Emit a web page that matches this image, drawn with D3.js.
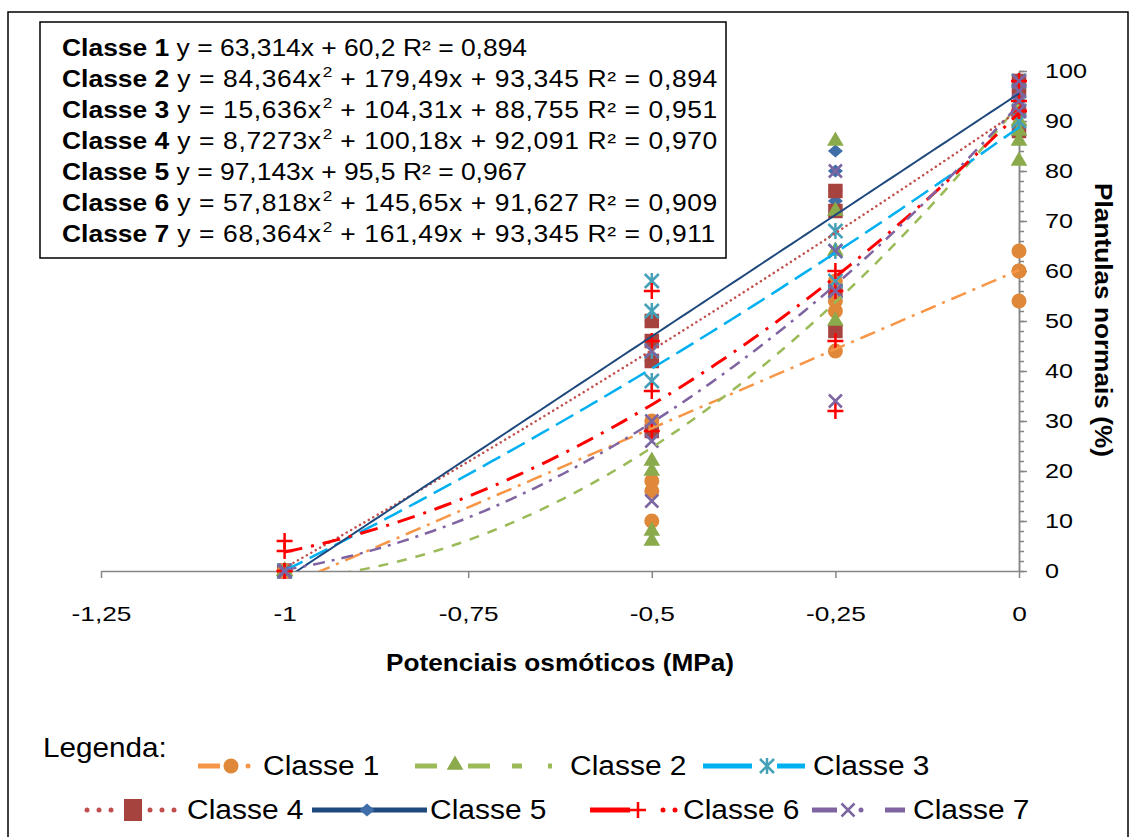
<!DOCTYPE html>
<html lang="pt">
<head>
<meta charset="utf-8">
<style>
  body { margin: 0; background: #fff; }
  svg { font-family: "Liberation Sans", Arial, sans-serif; }
</style>
</head>
<body>
<script src="https://cdn.jsdelivr.net/npm/d3@7"></script>
<script>

// potenciais osmoticos (MPa) e repeticoes por classe
var potenciais = [-1, -0.5, -0.25, 0];
var classe1 = [[0, 0, 0, 0], [30, 18, 16, 10], [58, 54, 52, 44], [64, 60, 60, 54]];
var classe2 = [[0, 0, 0, 0], [22, 20, 8, 6], [86, 72, 64, 50], [90, 88, 86, 82]];
var classe3 = [[0, 0, 0, 0], [58, 52, 44, 38], [68, 64, 58, 56], [98, 96, 92, 90]];
var classe4 = [[0, 0, 0, 0], [50, 46, 42, 28], [76, 72, 56, 48], [98, 96, 92, 88]];
var classe5 = [[0, 0, 0, 0], [50, 46, 42, 42], [84, 80, 76, 74], [98, 96, 94, 92]];
var classe6 = [[6, 4, 0, 0], [56, 46, 36, 28], [60, 56, 46, 32], [98, 94, 92, 92]];
var classe7 = [[0, 0, 0, 0], [44, 30, 26, 14], [80, 64, 56, 34], [98, 96, 94, 92]];

var nomes = ["Classe 1", "Classe 2", "Classe 3", "Classe 4", "Classe 5", "Classe 6", "Classe 7"];
// linhas de tendencia y = a x^2 + b x + c
var coefA = [0, 84.364, 15.636, 8.7273, 0, 57.818, 68.364];
var coefB = [63.314, 179.49, 104.31, 100.18, 97.143, 145.65, 161.49];
var coefC = [60.2, 93.345, 88.755, 92.091, 95.5, 91.627, 93.345];
var r2 = [0.894, 0.894, 0.951, 0.970, 0.967, 0.909, 0.911];

var xTicks = [-1.25, -1, -0.75, -0.5, -0.25, 0];
var yTicks = [0, 10, 20, 30, 40, 50, 60, 70, 80, 90, 100];

var dados = [classe1, classe2, classe3, classe4, classe5, classe6, classe7];

var estilos = [
  {fill: "#E0883A", stroke: null, sym: "circle", line: "#F79646", w: 2.5, dash: "16,7,3,7", cap: "butt"},
  {fill: "#8AAA4C", stroke: null, sym: "triangle", line: "#9BBB59", w: 2.5, dash: "10,9", cap: "butt"},
  {fill: "none", stroke: "#45A0B8", sym: "asterisk", line: "#00B0F0", w: 2.5, dash: "20,8", cap: "butt"},
  {fill: "#A7433F", stroke: null, sym: "square", line: "#C0504D", w: 2.5, dash: "0.1,5", cap: "round"},
  {fill: "#3F6EA9", stroke: null, sym: "diamond", line: "#1F497D", w: 2, dash: null, cap: "butt"},
  {fill: "none", stroke: "#FF0000", sym: "plus", line: "#FF0000", w: 3, dash: "18,9,3,9", cap: "butt"},
  {fill: "none", stroke: "#7C66A1", sym: "cross", line: "#8064A2", w: 2.5, dash: "12,7,3,7", cap: "butt"}
];

var W = 1132, H = 837;
var svg = d3.select("body").append("svg").attr("width", W).attr("height", H);

// moldura externa
svg.append("path")
  .attr("d", "M8," + H + "V12H1128V" + H)
  .attr("fill", "none").attr("stroke", "#000").attr("stroke-width", 1.5);

var x = d3.scaleLinear().domain([-1.25, 0]).range([101, 1019]);
var y = d3.scaleLinear().domain([0, 100]).range([571, 71]);

var virgula = function(v) { return String(v).replace(".", ","); };

// o texto do original aparece esticado na horizontal
function texto(g, tx, ty, size, sx, str, anchor, bold) {
  return g.append("text")
    .attr("transform", "translate(" + tx + "," + ty + ") scale(" + sx + ",1)")
    .attr("font-size", size)
    .attr("font-weight", bold ? "bold" : null)
    .attr("text-anchor", anchor || "start")
    .text(str);
}

// eixo x
var gx = svg.append("g")
  .attr("transform", "translate(0," + y(0) + ")")
  .call(d3.axisBottom(x).tickValues(xTicks).tickSize(7).tickSizeOuter(0).tickPadding(28)
    .tickFormat(virgula));
gx.selectAll("path, line").attr("stroke", "#868686").attr("stroke-width", 1.5);
gx.selectAll("text").attr("font-size", 21).attr("fill", "#000")
  .attr("font-family", "Liberation Sans, Arial, sans-serif")
  .attr("transform", "scale(1.25,1)");

// eixo y secundario (direita) com subdivisoes
var gyMinor = svg.append("g")
  .attr("transform", "translate(" + x(0) + ",0)")
  .call(d3.axisRight(y).ticks(50).tickSize(5).tickSizeOuter(0).tickFormat(""));
gyMinor.selectAll("path, line").attr("stroke", "#868686").attr("stroke-width", 1.5);

var gy = svg.append("g")
  .attr("transform", "translate(" + x(0) + ",0)")
  .call(d3.axisRight(y).tickValues(yTicks).tickSize(8).tickSizeOuter(0).tickPadding(18));
gy.selectAll("path, line").attr("stroke", "#868686").attr("stroke-width", 1.5);
gy.selectAll("text").attr("font-size", 21).attr("fill", "#000")
  .attr("font-family", "Liberation Sans, Arial, sans-serif")
  .attr("x", 26 / 1.2)
  .attr("transform", "scale(1.2,1)");

// titulos dos eixos
texto(svg, 560, 671, 23, 1.14, "Potenciais osmóticos (MPa)", "middle", true);

svg.append("text")
  .attr("transform", "translate(1095,320) rotate(90) scale(1.14,1)")
  .attr("text-anchor", "middle").attr("font-size", 23).attr("font-weight", "bold")
  .text("Plantulas normais (%)");

// simbolos
function simbolo(tipo) {
  if (tipo === "circle") return d3.symbol().type(d3.symbolCircle).size(177)();
  if (tipo === "triangle") return d3.symbol().type(d3.symbolTriangle).size(120)();
  if (tipo === "square") return d3.symbol().type(d3.symbolSquare).size(210)();
  if (tipo === "diamond") return "M0,-6.5L7.5,0L0,6.5L-7.5,0Z";
  if (tipo === "plus") return "M-8,0H8M0,-8V8";
  if (tipo === "cross") return "M-6.5,-6.5L6.5,6.5M-6.5,6.5L6.5,-6.5";
  return "M-7,-7L7,7M-7,7L7,-7M0,-8V8"; // asterisco
}

var ordem = [4, 3, 0, 1, 2, 5, 6];
var pontos = svg.append("g");
ordem.forEach(function(k) {
  var pts = [];
  dados[k].forEach(function(reps, i) {
    reps.forEach(function(v) { pts.push({x: potenciais[i], y: v}); });
  });
  var s = estilos[k];
  pontos.selectAll(".p" + k)
    .data(pts)
    .enter().append("path")
    .attr("class", "p" + k)
    .attr("transform", function(d) { return "translate(" + x(d.x) + "," + y(d.y) + ")"; })
    .attr("d", simbolo(s.sym))
    .attr("fill", s.fill)
    .attr("stroke", s.stroke || "none")
    .attr("stroke-width", 2.5);
});

// linhas de tendencia
svg.append("clipPath").attr("id", "area")
  .append("rect").attr("x", x(-1.25)).attr("y", y(100) - 10)
  .attr("width", x(0) - x(-1.25) + 1).attr("height", y(0) - y(100) + 10);

var amostras = d3.range(-1, 0.00001, 0.01);
var linha = d3.line().x(function(d) { return x(d[0]); }).y(function(d) { return y(d[1]); });

var tend = svg.append("g").attr("clip-path", "url(#area)");
nomes.forEach(function(n, k) {
  var s = estilos[k];
  var pts = amostras.map(function(v) { return [v, coefA[k] * v * v + coefB[k] * v + coefC[k]]; });
  tend.append("path")
    .attr("d", linha(pts))
    .attr("fill", "none")
    .attr("stroke", s.line)
    .attr("stroke-width", s.w)
    .attr("stroke-dasharray", s.dash)
    .attr("stroke-linecap", s.cap);
});

// caixa das equacoes
svg.append("rect")
  .attr("x", 40).attr("y", 22).attr("width", 686).attr("height", 236)
  .attr("fill", "#fff").attr("stroke", "#000").attr("stroke-width", 1.5);

nomes.forEach(function(n, k) {
  var t = texto(svg, 62, 56 + k * 31, 23, 1.15, null);
  t.append("tspan").attr("font-weight", "bold").text(n);
  if (coefA[k] !== 0) {
    t.append("tspan").attr("letter-spacing", 0.55).text(" y = " + virgula(coefA[k]) + "x");
    t.append("tspan").attr("font-size", 15).attr("dx", 1).attr("dy", -10).text("2");
    t.append("tspan").attr("letter-spacing", 0.55).attr("dy", 10)
      .text(" + " + virgula(coefB[k]) + "x + " + virgula(coefC[k]) +
      " R² = " + virgula(r2[k].toFixed(3)));
  } else {
    t.append("tspan").text(" y = " + virgula(coefB[k]) + "x + " + virgula(coefC[k]) +
      " R² = " + virgula(r2[k].toFixed(3)));
  }
});

// legenda
texto(svg, 43, 757, 28, 1.06, "Legenda:");

var leg = svg.append("g");
function traco(x1, x2, yy, k, dash) {
  leg.append("line").attr("x1", x1).attr("x2", x2).attr("y1", yy).attr("y2", yy)
    .attr("stroke", estilos[k].line).attr("stroke-width", 5)
    .attr("stroke-dasharray", dash || null)
    .attr("stroke-linecap", dash ? "round" : "butt");
}
function marca(cx, cy, k) {
  var s = estilos[k];
  leg.append("path").attr("transform", "translate(" + cx + "," + cy + ")")
    .attr("d", simbolo(s.sym)).attr("fill", s.fill)
    .attr("stroke", s.stroke || "none").attr("stroke-width", 2.5);
}
function ponto(cx, cy, k) {
  leg.append("circle").attr("cx", cx).attr("cy", cy).attr("r", 2.5).attr("fill", estilos[k].line);
}
function rotulo(xx, yy, k) {
  texto(leg, xx, yy, 28, 1.07, nomes[k]);
}
var r1 = 766, r2y = 810;
// Classe 1
traco(198, 220, r1, 0); marca(231, r1, 0); ponto(248, r1, 0);
rotulo(263, r1 + 9, 0);
// Classe 2
traco(415, 437, r1, 1); marca(455, r1 - 1, 1); traco(468, 490, r1, 1);
traco(512, 522, r1, 1); traco(548, 552, r1, 1);
rotulo(570, r1 + 9, 1);
// Classe 3
traco(703, 752, r1, 2); marca(767, r1, 2); traco(777, 805, r1, 2);
rotulo(813, r1 + 9, 2);
// Classe 4
[87, 99, 111, 150, 162, 174].forEach(function(cx) { ponto(cx, r2y, 3); });
leg.append("rect").attr("x", 124).attr("y", r2y - 11).attr("width", 18).attr("height", 22)
  .attr("fill", estilos[3].fill);
rotulo(187, r2y + 9, 3);
// Classe 5
traco(312, 427, r2y, 4); marca(367, r2y, 4);
rotulo(430, r2y + 9, 4);
// Classe 6
traco(590, 630, r2y, 5); marca(638, r2y, 5); ponto(663, r2y, 5); ponto(675, r2y, 5);
rotulo(683, r2y + 9, 5);
// Classe 7
traco(812, 837, r2y, 6); marca(848, r2y, 6); ponto(861, r2y, 6);
traco(885, 905, r2y, 6);
rotulo(913, r2y + 9, 6);

</script>
</body>
</html>
